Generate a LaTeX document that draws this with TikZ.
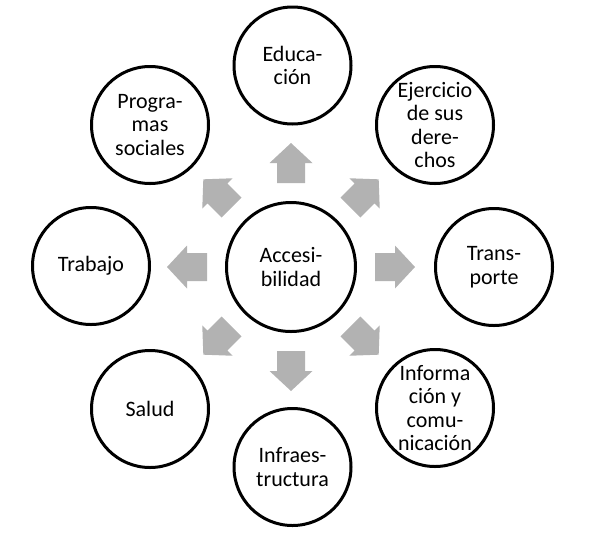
\documentclass[tikz,border=0pt]{standalone}
\usepackage{fontspec}
\setmainfont{Carlito}
\definecolor{arrowgray}{RGB}{178,178,178}
\begin{document}
\begin{tikzpicture}[x=1pt,y=-1pt,
  bubble/.style={circle,draw=black,line width=3pt,minimum size=117pt,inner sep=0pt,
    align=center,font=\fontsize{22}{23.5}\selectfont},
  hub/.style={bubble,minimum size=129pt},
  blockarrow/.style={fill=arrowgray,draw=none}]
\useasboundingbox (0,0) rectangle (597,539);
\node[hub] (c) at (291,267) {Accesi-\\bilidad};
\node[bubble] (edu) at (292.5,65.5) {Educa-\\ción};
\node[bubble] (eje) at (435,125) {Ejercicio\\de sus\\dere-\\chos};
\node[bubble] (tra) at (494,267) {Trans-\\porte};
\node[bubble] (inf) at (435,408) {Informa\\ción y\\comu-\\nicación};
\node[bubble] (inz) at (292.5,467) {Infraes-\\tructura};
\node[bubble] (sal) at (150,409) {Salud};
\node[bubble] (trb) at (91,266) {Trabajo};
\node[bubble] (pro) at (150,125) {Progra-\\mas\\sociales};
\foreach \a in {0,45,...,315}{
  \begin{scope}[shift={(c.center)},rotate=\a]
    \fill[blockarrow] (84,-14) -- (104,-14) -- (104,-21.5) -- (124,0) -- (104,21.5) -- (104,14) -- (84,14) -- cycle;
  \end{scope}}
\end{tikzpicture}
\end{document}
